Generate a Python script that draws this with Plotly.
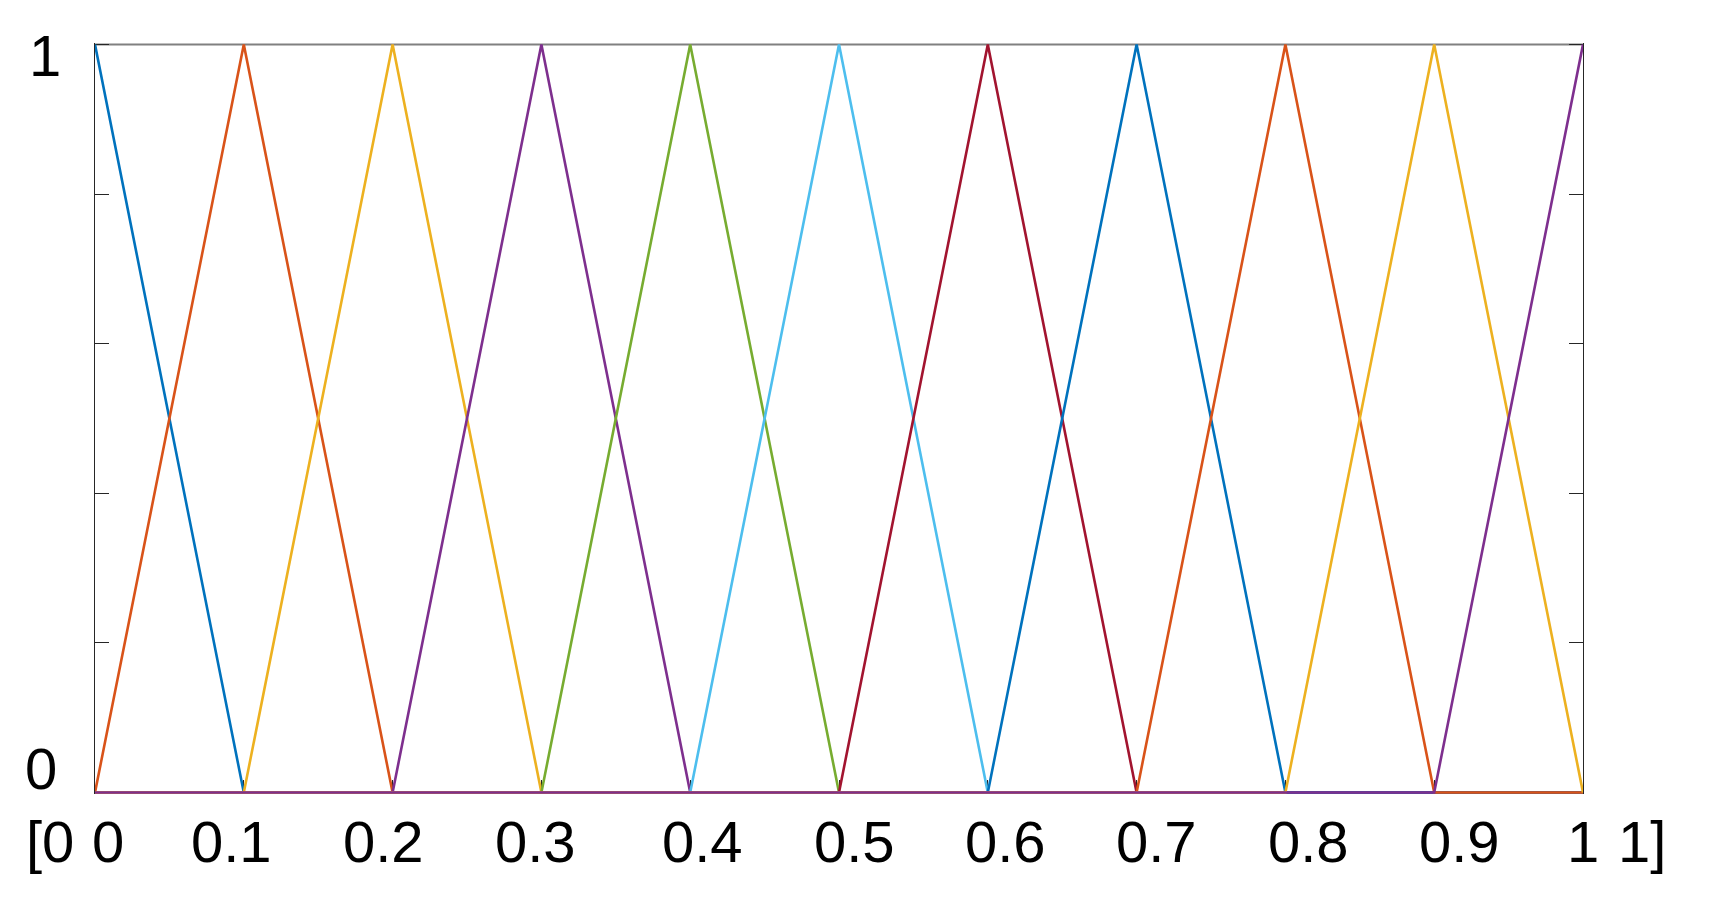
import plotly.graph_objects as go

# ---- data ----
x_points = [0.0, 0.1, 0.2, 0.3, 0.4, 0.5, 0.6, 0.7, 0.8, 0.9, 1.0]

mf_00 = [1, 0, 0, 0, 0, 0, 0, 0, 0, 0, 0]
mf_01 = [0, 1, 0, 0, 0, 0, 0, 0, 0, 0, 0]
mf_02 = [0, 0, 1, 0, 0, 0, 0, 0, 0, 0, 0]
mf_03 = [0, 0, 0, 1, 0, 0, 0, 0, 0, 0, 0]
mf_04 = [0, 0, 0, 0, 1, 0, 0, 0, 0, 0, 0]
mf_05 = [0, 0, 0, 0, 0, 1, 0, 0, 0, 0, 0]
mf_06 = [0, 0, 0, 0, 0, 0, 1, 0, 0, 0, 0]
mf_07 = [0, 0, 0, 0, 0, 0, 0, 1, 0, 0, 0]
mf_08 = [0, 0, 0, 0, 0, 0, 0, 0, 1, 0, 0]
mf_09 = [0, 0, 0, 0, 0, 0, 0, 0, 0, 1, 0]
mf_10 = [0, 0, 0, 0, 0, 0, 0, 0, 0, 0, 1]
series = [mf_00, mf_01, mf_02, mf_03, mf_04, mf_05, mf_06, mf_07, mf_08, mf_09, mf_10]

x_tick_labels = ["[0", "0", "0.1", "0.2", "0.3", "0.4", "0.5", "0.6", "0.7", "0.8", "0.9", "1", "1]"]
y_tick_labels = ["1", "0"]

# ---- styling ----
palette = ["#0072BD", "#D95319", "#EDB120", "#7E2F8E", "#77AC30", "#4DBEEE", "#A2142F"]
x_label_pos = [-0.0302, 0.0087, 0.0914, 0.1942, 0.2960, 0.4086, 0.5101, 0.6119,
               0.7131, 0.8152, 0.9167, 0.9997, 1.0397]
y_label_pos = [(-0.0336, 0.9827), (-0.0366, 0.0346)]
FONT = "Liberation Sans, Arial, sans-serif"

fig = go.Figure()
for i, ys in enumerate(series):
    fig.add_trace(go.Scatter(
        x=x_points, y=ys, mode="lines",
        line=dict(color=palette[i % len(palette)], width=2.6),
        showlegend=False, hoverinfo="skip",
    ))

annotations = []
for lab, xp in zip(x_tick_labels, x_label_pos):
    annotations.append(dict(text=lab, x=xp, xref="paper", y=-0.0626, yref="paper",
                            xanchor="center", yanchor="middle", showarrow=False,
                            font=dict(family=FONT, size=58, color="black")))
for lab, (xp, yp) in zip(y_tick_labels, y_label_pos):
    annotations.append(dict(text=lab, x=xp, xref="paper", y=yp, yref="paper",
                            xanchor="center", yanchor="middle", showarrow=False,
                            font=dict(family=FONT, size=58, color="black")))

fig.update_layout(
    width=1703, height=881, autosize=False,
    margin=dict(l=87, r=128, t=35, b=95, pad=0),
    plot_bgcolor="white", paper_bgcolor="white",
    annotations=annotations,
    shapes=[dict(type="line", xref="x", yref="y", x0=0, x1=1, y0=1, y1=1,
                 line=dict(color="#808080", width=2), layer="below")],
    xaxis=dict(range=[0, 1], showgrid=False, zeroline=False,
               showline=False,
               ticks="inside", ticklen=14, tickcolor="#262626", tickwidth=1,
               tickvals=x_points, showticklabels=False, layer="below traces"),
    yaxis=dict(range=[-0.002, 1.002], showgrid=False, zeroline=False,
               showline=True, linecolor="#262626", linewidth=1, mirror="ticks",
               ticks="inside", ticklen=14, tickcolor="#262626", tickwidth=1,
               tickvals=[0, 0.2, 0.4, 0.6, 0.8, 1], showticklabels=False,
               layer="below traces"),
)

fig.write_html("out.html")
